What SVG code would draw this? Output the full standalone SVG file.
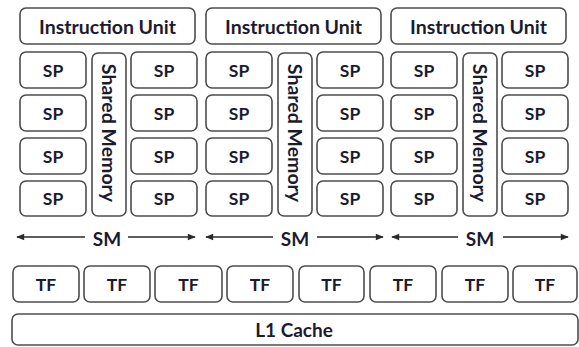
<svg xmlns="http://www.w3.org/2000/svg" width="579" height="347" viewBox="0 0 579 347">
<style>
.b{fill:#fff;stroke:#4d4d4d;stroke-width:1.6}
.t{font-family:Lato,"Open Sans","Liberation Sans",sans-serif;font-weight:700;fill:#1b1b30;text-anchor:middle;dominant-baseline:central}
.iu{font-size:19.5px}
.s{font-size:17.5px}
.m{font-size:19.5px}
.l{font-size:19px}
.c{stroke:#2a2a2a;stroke-width:1.5;fill:none;marker-end:url(#ah)}
</style>
<defs>
<marker id="ah" viewBox="0 0 10 10" refX="9" refY="5" markerWidth="9" markerHeight="8" markerUnits="userSpaceOnUse" orient="auto-start-reverse">
<path d="M0,1 L10,5 L0,9 z" fill="#2a2a2a"/>
</marker>
<g id="smtpl">
<rect class="b" x="0" y="8" width="175" height="36" rx="6"/>
<text class="t iu" x="87.5" y="26">Instruction Unit</text>
<rect class="b" x="0" y="52" width="66" height="36" rx="6"/><text class="t s" x="33" y="70">SP</text>
<rect class="b" x="0" y="95" width="66" height="36" rx="6"/><text class="t s" x="33" y="113">SP</text>
<rect class="b" x="0" y="138" width="66" height="36" rx="6"/><text class="t s" x="33" y="156">SP</text>
<rect class="b" x="0" y="181" width="66" height="35" rx="6"/><text class="t s" x="33" y="198.5">SP</text>
<rect class="b" x="72" y="53" width="34" height="163" rx="6"/>
<text class="t m" transform="translate(89,133) rotate(90)" x="0" y="0">Shared Memory</text>
<rect class="b" x="111" y="52" width="66" height="36" rx="6"/><text class="t s" x="144" y="70">SP</text>
<rect class="b" x="111" y="95" width="66" height="36" rx="6"/><text class="t s" x="144" y="113">SP</text>
<rect class="b" x="111" y="138" width="66" height="36" rx="6"/><text class="t s" x="144" y="156">SP</text>
<rect class="b" x="111" y="181" width="66" height="35" rx="6"/><text class="t s" x="144" y="198.5">SP</text>
</g>
</defs>
<g id="sm1"><use href="#smtpl" x="20" y="0"/></g>
<g id="sm2"><use href="#smtpl" x="206" y="0"/></g>
<g id="sm3"><use href="#smtpl" x="391" y="0"/></g>
<g id="sm-labels">
<text class="t l" x="107" y="238">SM</text>
<text class="t l" x="295" y="238">SM</text>
<text class="t l" x="480" y="238">SM</text>
</g>
<g id="connectors">
<path class="c" d="M85,237 H17"/>
<path class="c" d="M128,237 H195"/>
<path class="c" d="M273,237 H206"/>
<path class="c" d="M317,237 H383"/>
<path class="c" d="M458,237 H392"/>
<path class="c" d="M503,237 H568"/>
</g>
<g id="tf">
<rect class="b" x="13" y="266" width="66" height="36" rx="6"/><text class="t s" x="46" y="284">TF</text>
<rect class="b" x="84" y="266" width="66" height="36" rx="6"/><text class="t s" x="117" y="284">TF</text>
<rect class="b" x="155" y="266" width="67" height="36" rx="6"/><text class="t s" x="188.5" y="284">TF</text>
<rect class="b" x="227" y="266" width="66" height="36" rx="6"/><text class="t s" x="260" y="284">TF</text>
<rect class="b" x="299" y="266" width="65" height="36" rx="6"/><text class="t s" x="331.5" y="284">TF</text>
<rect class="b" x="370" y="266" width="66" height="36" rx="6"/><text class="t s" x="403" y="284">TF</text>
<rect class="b" x="442" y="266" width="66" height="36" rx="6"/><text class="t s" x="475" y="284">TF</text>
<rect class="b" x="513" y="266" width="64" height="36" rx="6"/><text class="t s" x="545" y="284">TF</text>
</g>
<g id="l1">
<rect class="b" x="12" y="314" width="566" height="31" rx="6"/>
<text class="t l" x="294" y="329">L1 Cache</text>
</g>
</svg>
